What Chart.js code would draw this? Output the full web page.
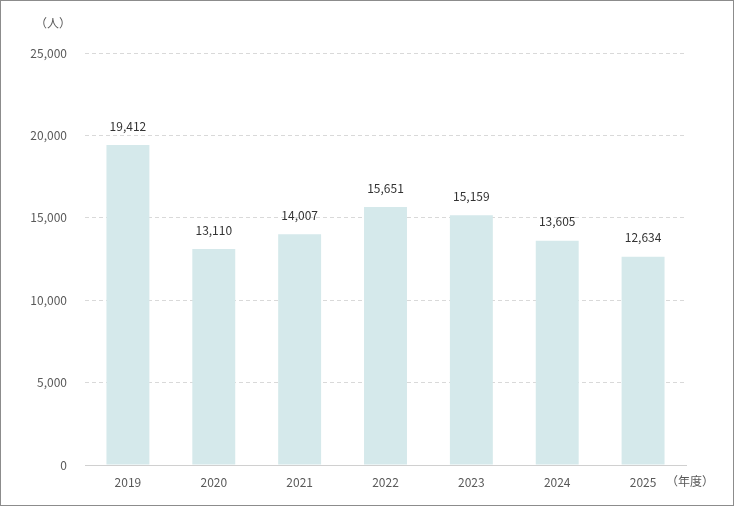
<!DOCTYPE html>
<html>
<head>
<meta charset="utf-8">
<script src="https://cdn.jsdelivr.net/npm/chart.js@4"></script>
<style>
  html, body { margin: 0; padding: 0; background: #fff; }
  #frame { width: 732px; height: 504px; border: 1px solid #8c8c8c; position: relative; }
  #chart { display: block; }
</style>
</head>
<body>
<div id="frame"><canvas id="chart" width="732" height="504"></canvas></div>
<script>
const years  = ['2019', '2020', '2021', '2022', '2023', '2024', '2025'];
const people = [19412, 13110, 14007, 15651, 15159, 13605, 12634];
const yTicks = [0, 5000, 10000, 15000, 20000, 25000];

const FONT = "'Noto Sans CJK JP', 'Noto Sans', sans-serif";

// value labels + unit captions
const labelPlugin = {
  id: 'labels',
  afterDatasetsDraw(chart) {
    const ctx = chart.ctx;
    const meta = chart.getDatasetMeta(0);
    ctx.save();
    ctx.font = '12px ' + FONT;
    ctx.fillStyle = '#333';
    ctx.textAlign = 'center';
    ctx.textBaseline = 'bottom';
    meta.data.forEach((bar, i) => {
      ctx.fillText(people[i].toLocaleString('en-US'), bar.x, bar.y - 13);
    });
    ctx.fillStyle = '#595959';
    ctx.textBaseline = 'middle';
    ctx.fillText('（人）', 52, 22);
    ctx.textAlign = 'left';
    ctx.fillText('（年度）', chart.chartArea.right - 20, chart.chartArea.bottom + 16);
    ctx.restore();
  }
};

new Chart(document.getElementById('chart'), {
  type: 'bar',
  data: {
    labels: years,
    datasets: [{
      data: people,
      backgroundColor: '#d5e9eb',
      barPercentage: 0.5,
      categoryPercentage: 1,
    }]
  },
  options: {
    responsive: false,
    animation: false,
    layout: { padding: { top: 52, right: 47, bottom: 0, left: 0 } },
    plugins: { legend: { display: false }, tooltip: { enabled: false } },
    scales: {
      x: {
        grid: { display: false, drawTicks: false },
        border: { color: '#d0d0d0' },
        ticks: { color: '#595959', font: { family: FONT, size: 12 }, padding: 10 },
        afterFit: s => { s.height = 40; },
      },
      y: {
        min: 0,
        max: 25000,
        afterBuildTicks: s => { s.ticks = yTicks.map(v => ({ value: v })); },
        grid: { color: '#d9d9d9', drawTicks: false },
        border: { display: false, dash: [4, 3] },
        ticks: {
          color: '#595959',
          font: { family: FONT, size: 12 },
          padding: 18,
          callback: v => v.toLocaleString('en-US'),
        },
        afterFit: s => { s.width = 84; },
      }
    }
  },
  plugins: [labelPlugin]
});
</script>
</body>
</html>
